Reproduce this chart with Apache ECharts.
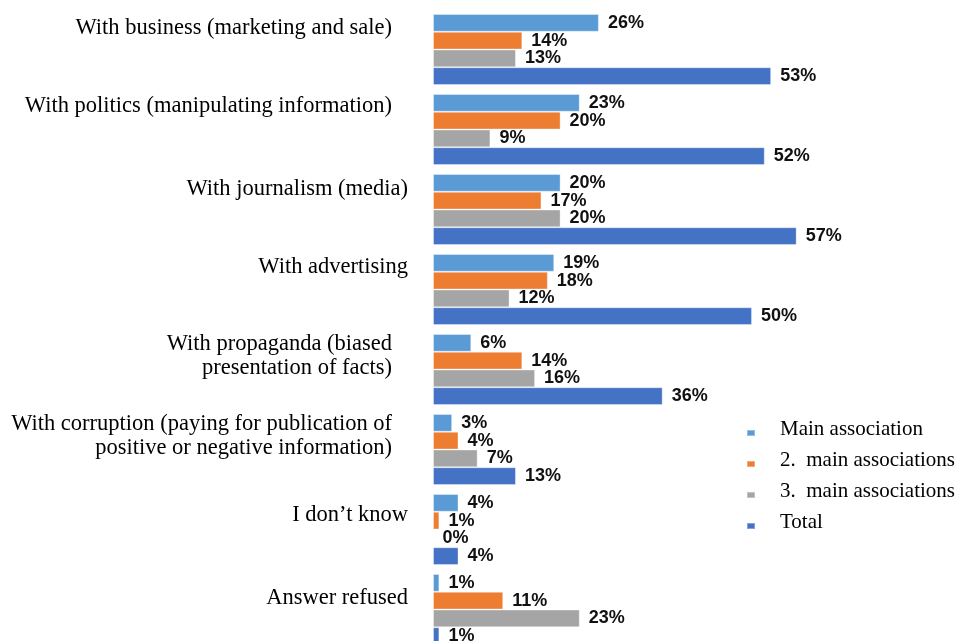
<!DOCTYPE html>
<html>
<head>
<meta charset="utf-8">
<title>Associations</title>
<script src="https://cdn.jsdelivr.net/npm/echarts@6/dist/echarts.min.js"></script>
<style>
  html, body { margin: 0; padding: 0; background: #ffffff; }
  #chart { width: 958px; height: 641px; }
</style>
</head>
<body>
<div id="chart"></div>
<script>
// Answer categories, top to bottom
const categories = [
  'With business (marketing and sale)',
  'With politics (manipulating information)',
  'With journalism (media)',
  'With advertising',
  'With propaganda (biased\npresentation of facts)',
  'With corruption (paying for publication of\npositive or negative information)',
  'I don\u2019t know',
  'Answer refused'
];

const seriesNames = ['Main association', '2.  main associations', '3.  main associations', 'Total'];

// Shares in percent, one array per series, in category order
const mainAssociation = [26, 23, 20, 19, 6, 3, 4, 1];
const secondAssociation = [14, 20, 17, 18, 14, 4, 1, 11];
const thirdAssociation = [13, 9, 20, 12, 16, 7, 0, 23];
const totalValues = [53, 52, 57, 50, 36, 13, 4, 1];

const seriesValues = [mainAssociation, secondAssociation, thirdAssociation, totalValues];
const seriesColors = ['#5B9BD5', '#ED7D31', '#A5A5A5', '#4472C4'];

// Per-caption layout: [lift above the band centre (px), extra right padding (px)]
const captionLayout = [[21, 16], [23, 16], [20, 0], [22, 0], [13, 16], [13, 16], [14, 0], [11, 0]];

// Rich styles: one text style and one invisible spacer per caption
const captionRich = {};
captionLayout.forEach(([lift, padRight], i) => {
  captionRich['t' + i] = { padding: [0, padRight, 0, 0] };
  captionRich['g' + i] = { height: lift * 2, lineHeight: lift * 2 };
});

function captionFormatter(value, index) {
  const lines = value.split('\n').map(line => '{t' + index + '|' + line + '}');
  return lines.join('\n') + '\n{g' + index + '|}';
}

const chart = echarts.init(document.getElementById('chart'), null, { renderer: 'canvas' });

chart.setOption({
  animation: false,
  backgroundColor: '#ffffff',
  grid: { left: 433, top: 9.5, width: 510.4, height: 640, outerBoundsMode: 'none', containLabel: false },
  xAxis: {
    type: 'value', min: 0, max: 80,
    show: false
  },
  yAxis: {
    type: 'category',
    inverse: true,
    data: categories,
    axisLine: { show: false },
    axisTick: { show: false },
    splitLine: { show: false },
    axisLabel: {
      margin: 25,
      color: '#000000',
      fontFamily: '"Liberation Serif", "Times New Roman", serif',
      fontSize: 22.5,
      lineHeight: 24,
      align: 'right',
      formatter: captionFormatter,
      rich: captionRich
    }
  },
  legend: {
    orient: 'vertical',
    left: 741,
    top: 413.5,
    itemWidth: 8,
    itemHeight: 16,
    itemGap: 10,
    // small marker sitting a little below the text centre; the tiny corner subpaths fix the box
    icon: 'path://M0,0h0.01v0.01h-0.01z M0,9h8v6h-8z M8,16h-0.01v-0.01h0.01z',
    data: seriesNames,
    textStyle: {
      color: '#000000',
      fontFamily: '"Liberation Serif", "Times New Roman", serif',
      fontSize: 21,
      padding: [0, 0, 0, 20]
    }
  },
  series: seriesNames.map((name, k) => ({
    name: name,
    type: 'bar',
    data: seriesValues[k],
    barGap: '0%',
    barCategoryGap: '11.25%',
    itemStyle: {
      color: seriesColors[k],
      borderColor: 'rgba(255,255,255,0.35)',
      borderWidth: 1
    },
    label: {
      show: true,
      position: 'right',
      distance: 9,
      formatter: '{c}%',
      color: '#111111',
      fontFamily: '"Liberation Sans", Arial, sans-serif',
      fontWeight: 'bold',
      fontSize: 18
    }
  }))
});
</script>
</body>
</html>
